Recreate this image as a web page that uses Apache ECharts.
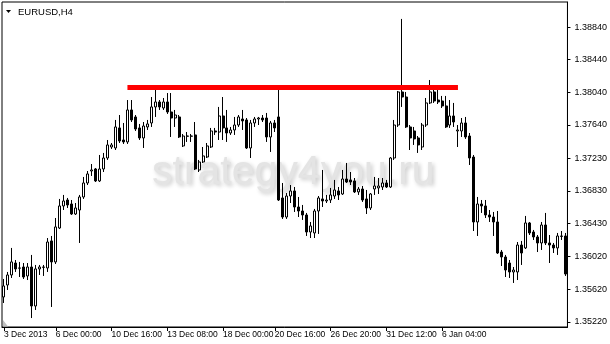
<!DOCTYPE html>
<html><head><meta charset="utf-8">
<script src="https://cdn.jsdelivr.net/npm/echarts@6/dist/echarts.min.js"></script>
<style>html,body{margin:0;padding:0;background:#fff}#c{width:610px;height:344px}</style>
</head><body><div id="c"></div>
<script>
const symbolName = 'EURUSD,H4';
const watermarkText = 'strategy4you.ru';

const openPrices = [
1.35526,1.35673,1.35796,1.35943,1.35882,1.35894,1.35784,1.35894,1.35415,1.35870,
1.35894,1.35882,1.36214,1.35956,1.36373,1.36644,1.36717,1.36668,1.36545,1.36594,
1.36754,1.36926,1.37073,1.37098,1.36951,1.37098,1.37233,1.37368,1.37356,1.37602,
1.37454,1.37430,1.37823,1.37737,1.37602,1.37479,1.37614,1.37663,1.37860,1.37921,
1.37847,1.37921,1.37798,1.37724,1.37737,1.37381,1.37503,1.37500,1.37516,1.37086,
1.37184,1.37245,1.37368,1.37565,1.37552,1.37749,1.37602,1.37540,1.37577,1.37638,
1.37712,1.37700,1.37356,1.37663,1.37712,1.37724,1.37724,1.37491,1.37663,1.37737,
1.36742,1.36508,1.36766,1.36828,1.36631,1.36582,1.36533,1.36324,1.36312,1.36582,
1.36730,1.36705,1.36717,1.36766,1.36828,1.36791,1.36975,1.36963,1.36951,1.36816,
1.36852,1.36730,1.36619,1.36852,1.36865,1.36877,1.36926,1.36877,1.37233,1.37638,
1.38044,1.37982,1.37614,1.37565,1.37479,1.37368,1.37638,1.37909,1.38044,1.37945,
1.37933,1.37872,1.37638,1.37749,1.37565,1.37565,1.37663,1.37503,1.37245,1.36447,
1.36668,1.36644,1.36533,1.36508,1.36447,1.36078,1.36017,1.35943,1.35833,1.35833,
1.36164,1.36128,1.36435,1.36324,1.36263,1.36189,1.36410,1.36189,1.36164,1.36128,
1.36275,1.36275];

const closePrices = [
1.35661,1.35796,1.35956,1.35870,1.35880,1.35771,1.35894,1.35415,1.35870,1.35894,
1.35890,1.36201,1.35956,1.36386,1.36644,1.36705,1.36656,1.36545,1.36619,1.36754,
1.36926,1.37037,1.37086,1.36951,1.37098,1.37233,1.37393,1.37393,1.37614,1.37442,
1.37430,1.37823,1.37700,1.37589,1.37479,1.37626,1.37651,1.37860,1.37921,1.37860,
1.37921,1.37798,1.37724,1.37761,1.37491,1.37503,1.37500,1.37503,1.37098,1.37184,
1.37258,1.37381,1.37565,1.37552,1.37749,1.37602,1.37540,1.37577,1.37638,1.37737,
1.37688,1.37356,1.37663,1.37712,1.37724,1.37700,1.37491,1.37663,1.37602,1.36717,
1.36508,1.36766,1.36828,1.36631,1.36582,1.36533,1.36324,1.36398,1.36582,1.36742,
1.36705,1.36717,1.36779,1.36840,1.36779,1.36975,1.36938,1.36938,1.36816,1.36852,
1.36717,1.36619,1.36791,1.36889,1.36889,1.36926,1.36877,1.37233,1.37638,1.38044,
1.37982,1.37614,1.37479,1.37467,1.37393,1.37638,1.37909,1.38044,1.37933,1.37921,
1.37872,1.37614,1.37749,1.37675,1.37577,1.37663,1.37491,1.37233,1.36447,1.36668,
1.36644,1.36533,1.36508,1.36447,1.36066,1.36017,1.35857,1.35833,1.35857,1.36164,
1.36066,1.36435,1.36312,1.36263,1.36189,1.36410,1.36189,1.36164,1.36128,1.36275,
1.36270,1.35808];

const lowPrices = [
1.35452,1.35612,1.35759,1.35833,1.35771,1.35747,1.35734,1.35267,1.35366,1.35796,
1.35784,1.35833,1.35403,1.35931,1.36361,1.36594,1.36619,1.36533,1.36533,1.36189,
1.36730,1.36901,1.37012,1.36938,1.36938,1.37061,1.37209,1.37344,1.37331,1.37417,
1.37405,1.37405,1.37675,1.37565,1.37454,1.37356,1.37577,1.37614,1.37737,1.37823,
1.37823,1.37774,1.37491,1.37614,1.37479,1.37368,1.37430,1.37430,1.37086,1.37061,
1.37172,1.37233,1.37356,1.37516,1.37454,1.37454,1.37430,1.37516,1.37516,1.37614,
1.37577,1.37344,1.37233,1.37614,1.37638,1.37675,1.37430,1.37307,1.37552,1.36705,
1.36484,1.36484,1.36680,1.36570,1.36508,1.36472,1.36275,1.36250,1.36250,1.36300,
1.36631,1.36680,1.36680,1.36730,1.36717,1.36779,1.36926,1.36901,1.36803,1.36779,
1.36693,1.36545,1.36594,1.36779,1.36791,1.36840,1.36865,1.36865,1.37209,1.37614,
1.37860,1.37602,1.37331,1.37393,1.37295,1.37331,1.37614,1.37896,1.37909,1.37896,
1.37847,1.37602,1.37602,1.37614,1.37368,1.37491,1.37467,1.37147,1.36336,1.36275,
1.36558,1.36496,1.36447,1.36275,1.36054,1.35906,1.35771,1.35759,1.35698,1.35734,
1.35919,1.36115,1.36287,1.36226,1.36078,1.36103,1.36164,1.35943,1.36066,1.36042,
1.36226,1.35784];

const highPrices = [
1.35747,1.35833,1.36128,1.35980,1.35956,1.35943,1.35943,1.36042,1.35919,1.35919,
1.35919,1.36250,1.36275,1.36496,1.36730,1.36779,1.36742,1.36717,1.36680,1.36779,
1.37000,1.37073,1.37159,1.37110,1.37270,1.37295,1.37454,1.37417,1.37700,1.37761,
1.37663,1.37945,1.37945,1.37761,1.37651,1.37675,1.37700,1.37982,1.38068,1.37945,
1.37970,1.38031,1.38031,1.37823,1.37761,1.37528,1.37552,1.37528,1.37675,1.37209,
1.37368,1.37417,1.37602,1.37602,1.37860,1.37982,1.37823,1.37614,1.37737,1.37761,
1.37823,1.37724,1.37700,1.37737,1.37737,1.37761,1.37786,1.37688,1.37700,1.38093,
1.36926,1.36803,1.36901,1.36877,1.36754,1.36656,1.36558,1.36447,1.36607,1.36766,
1.37086,1.36779,1.36865,1.36963,1.36877,1.37086,1.37172,1.37061,1.36987,1.36877,
1.36889,1.36840,1.36803,1.37000,1.36987,1.36987,1.36963,1.37245,1.37700,1.38056,
1.38941,1.38044,1.37638,1.37614,1.37503,1.37663,1.37970,1.38191,1.38093,1.38068,
1.37995,1.37995,1.37945,1.37909,1.37638,1.37724,1.37737,1.37540,1.37270,1.36754,
1.36717,1.36717,1.36594,1.36570,1.36582,1.36103,1.36042,1.35980,1.35894,1.36201,
1.36214,1.36521,1.36447,1.36349,1.36287,1.36447,1.36558,1.36287,1.36189,1.36312,
1.36336,1.36312];

const xTickBars = [0, 13, 27, 41, 55, 68, 82, 96, 110];
const xTickLabels = ['3 Dec 2013','6 Dec 00:00','10 Dec 16:00','13 Dec 08:00','18 Dec 00:00','20 Dec 16:00','26 Dec 20:00','31 Dec 12:00','6 Jan 04:00'];
const yTickLabels = ['1.38840','1.38440','1.38040','1.37640','1.37230','1.36830','1.36430','1.36020','1.35620','1.35220'];
const priceMin = 1.35157, priceMax = 1.39149;
const resistanceLevel = 1.3810;
const resistanceStartBar = 31, resistanceEndBar = 114;

const categories = openPrices.map((_, i) => String(i));
const ohlc = openPrices.map((o, i) => [o, closePrices[i], lowPrices[i], highPrices[i]]);
const yTickValues = yTickLabels.map(Number);
const tickSet = new Set(xTickBars);

const chart = echarts.init(document.getElementById('c'), null, {renderer: 'canvas', width: 610, height: 344});
chart.setOption({
  animation: false,
  backgroundColor: '#ffffff',
  grid: {left: 2, right: 41, top: 2, bottom: 17, show: true, borderColor: '#000', borderWidth: 1, backgroundColor: 'transparent'},
  xAxis: {
    type: 'category', data: categories, boundaryGap: true,
    axisLine: {show: true, lineStyle: {color: '#000', width: 1}},
    axisTick: {show: true, alignWithLabel: true, interval: (i) => tickSet.has(i), length: 4, lineStyle: {color: '#000'}},
    axisLabel: {
      interval: (i) => tickSet.has(i),
      formatter: (v, i) => { const k = xTickBars.indexOf(i); return k >= 0 ? xTickLabels[k] : ''; },
      align: 'left', margin: 3, fontFamily: 'Liberation Sans', fontSize: 8.5, color: '#000'
    },
    splitLine: {show: false}
  },
  yAxis: {
    type: 'value', position: 'right', min: priceMin, max: priceMax,
    axisLine: {show: true, lineStyle: {color: '#000'}},
    axisTick: {show: true, customValues: yTickValues, length: 3, lineStyle: {color: '#000'}},
    axisLabel: {
      customValues: yTickValues,
      formatter: (v) => yTickLabels.find(s => Math.abs(Number(s) - v) < 1e-7) || '',
      margin: 7, fontFamily: 'Liberation Sans', fontSize: 9, color: '#000'
    },
    splitLine: {show: false}
  },
  graphic: [
    {type: 'text', x: 152, y: 173, z: 1, silent: true,
     style: {text: watermarkText, font: '41px "Liberation Sans"', fill: '#e4e4e4', align: 'left', verticalAlign: 'middle',
             textShadowColor: 'rgba(0,0,0,0.22)', textShadowBlur: 4, textShadowOffsetX: 2, textShadowOffsetY: 2}},
    {type: 'text', x: 18, y: 12, z: 10, silent: true,
     style: {text: symbolName, font: '9.5px "Liberation Sans"', fill: '#000', align: 'left', verticalAlign: 'middle'}},
    {type: 'polygon', z: 10, silent: true, shape: {points: [[6, 10], [11, 10], [8.5, 13]]}, style: {fill: '#000'}},
    {type: 'polygon', z: 10, silent: true, shape: {points: [[3, 320], [3, 326.5], [8, 326.5]]}, style: {fill: '#c0c0c0'}}
  ],
  series: [{
    type: 'candlestick', data: ohlc, barWidth: 2.5, z: 3,
    itemStyle: {color: '#ffffff', color0: '#000000', borderColor: '#000000', borderColor0: '#000000', borderWidth: 1},
    emphasis: {disabled: true},
    markLine: {
      silent: true, symbol: ['none', 'none'], label: {show: false}, animation: false,
      lineStyle: {color: '#ff0000', width: 5, type: 'solid', opacity: 1},
      emphasis: {disabled: true},
      data: [[{coord: [resistanceStartBar, resistanceLevel]}, {coord: [resistanceEndBar, resistanceLevel]}]]
    }
  }]
});
</script></body></html>
